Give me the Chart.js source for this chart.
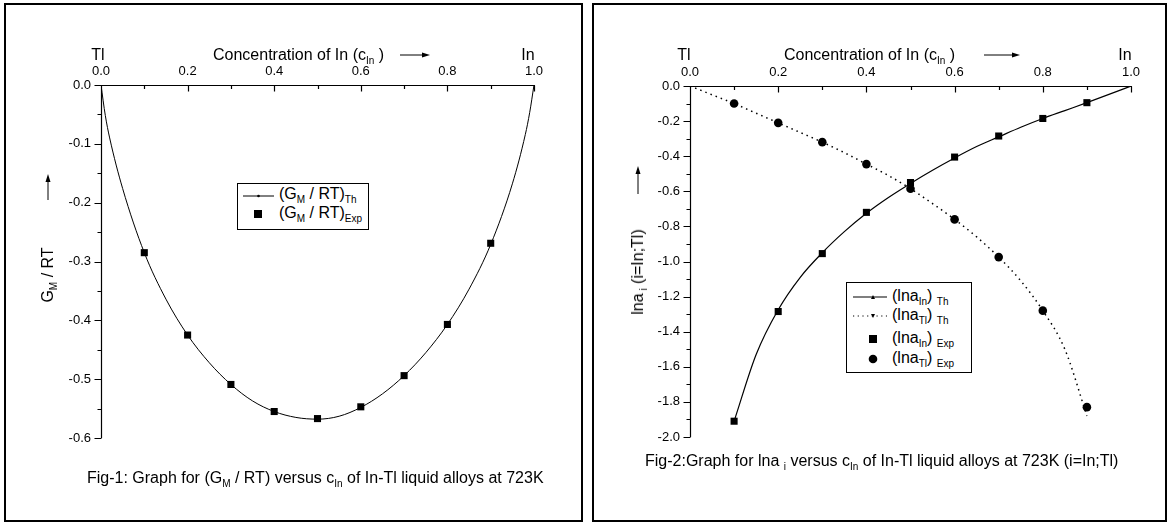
<!DOCTYPE html>
<html><head><meta charset="utf-8">
<script src="https://cdn.jsdelivr.net/npm/chart.js@4.4.0/dist/chart.umd.min.js"></script>
<style>
html,body{margin:0;padding:0;background:#fff;}
body{width:1169px;height:524px;position:relative;overflow:hidden;font-family:"Liberation Sans",Arial,sans-serif;color:#000;}
.panel{position:absolute;border:2px solid #000;box-sizing:border-box;}
canvas{position:absolute;top:0;}
.t{position:absolute;white-space:nowrap;font-size:16px;line-height:1;}
.t sub,.lg sub{font-size:10px;vertical-align:-4px;line-height:0;}
.rot{transform:translate(-50%,-50%) rotate(-90deg);}
.lg{position:absolute;border:1px solid #000;background:#fff;box-sizing:border-box;}
.row{position:absolute;left:0;white-space:nowrap;font-size:16px;line-height:1;}
svg{position:absolute;overflow:visible;}
</style>
</head><body>
<div class="panel" style="left:4px;top:3px;width:579px;height:519px;"></div>
<div class="panel" style="left:592px;top:3px;width:575px;height:519px;"></div>
<canvas id="c1" width="585" height="524" style="left:0;width:585px;height:524px;"></canvas>
<canvas id="c2" width="584" height="524" style="left:585px;width:584px;height:524px;"></canvas>

<!-- Fig 1 texts -->
<div class="t" style="left:98px;top:47px;transform:translateX(-50%);">Tl</div>
<div class="t" style="left:213px;top:47px;">Concentration of In (c<sub>In</sub> )</div>
<svg style="left:0;top:0;" width="1" height="1"><line x1="400" y1="55" x2="424" y2="55" stroke="#000" stroke-width="1"/><polygon points="430,55 422,52.5 422,57.5" fill="#000"/></svg>
<div class="t" style="left:528px;top:47px;transform:translateX(-50%);">In</div>
<div class="t rot" style="left:48px;top:275px;">G<sub>M</sub> / RT</div>
<svg style="left:0;top:0;" width="1" height="1"><line x1="48" y1="200" x2="48" y2="180" stroke="#000" stroke-width="1"/><polygon points="48,174 45.5,182 50.5,182" fill="#000"/></svg>
<div class="lg" style="left:237px;top:183px;width:132px;height:47px;">
  <svg style="left:0;top:0;" width="1" height="1"><line x1="5" y1="12" x2="36" y2="12" stroke="#000" stroke-width="1"/><circle cx="20.5" cy="12" r="1.3" fill="#000"/><rect x="16" y="26" width="8" height="8" fill="#000"/></svg>
  <div class="row" style="left:41px;top:2px;">(G<sub>M</sub> / RT)<sub>Th</sub></div>
  <div class="row" style="left:41px;top:21px;">(G<sub>M</sub> / RT)<sub>Exp</sub></div>
</div>
<div class="t" style="left:87px;top:470px;">Fig-1: Graph for (G<sub>M</sub> / RT) versus c<sub>In</sub> of In-Tl liquid alloys at 723K</div>

<!-- Fig 2 texts -->
<div class="t" style="left:684px;top:47px;transform:translateX(-50%);">Tl</div>
<div class="t" style="left:784px;top:47px;">Concentration of In (c<sub>In</sub> )</div>
<svg style="left:0;top:0;" width="1" height="1"><line x1="984" y1="55" x2="1014" y2="55" stroke="#000" stroke-width="1"/><polygon points="1020,55 1012,52.5 1012,57.5" fill="#000"/></svg>
<div class="t" style="left:1125px;top:47px;transform:translateX(-50%);">In</div>
<div class="t rot" style="left:638px;top:272px;">lna<sub>&nbsp;i</sub> (i=In;Tl)</div>
<svg style="left:0;top:0;" width="1" height="1"><line x1="638" y1="194" x2="638" y2="173" stroke="#000" stroke-width="1"/><polygon points="638,166 635.5,174 640.5,174" fill="#000"/></svg>
<div class="lg" style="left:846px;top:282px;width:126px;height:91px;">
  <svg style="left:0;top:0;" width="1" height="1">
    <line x1="6" y1="14" x2="40" y2="14" stroke="#000" stroke-width="1.2"/><polygon points="26,12 24,16 28,16" fill="#000"/>
    <line x1="6" y1="33" x2="40" y2="33" stroke="#000" stroke-width="1.2" stroke-dasharray="1.2,3.5"/><polygon points="26,35 24,31 28,31" fill="#000"/>
    <rect x="22" y="52" width="8" height="8" fill="#000"/>
    <circle cx="26" cy="76" r="4.3" fill="#000"/>
  </svg>
  <div class="row" style="left:45px;top:5px;">(lna<sub>In</sub>) <sub>Th</sub></div>
  <div class="row" style="left:45px;top:24px;">(lna<sub>Tl</sub>) <sub>Th</sub></div>
  <div class="row" style="left:45px;top:47px;">(lna<sub>In</sub>) <sub>Exp</sub></div>
  <div class="row" style="left:45px;top:67px;">(lna<sub>Tl</sub>) <sub>Exp</sub></div>
</div>
<div class="t" style="left:645px;top:453px;">Fig-2:Graph for lna <sub>i</sub> versus c<sub>In</sub> of In-Tl liquid alloys at 723K (i=In;Tl)</div>

<script>
// ---------- data ----------
const cExp = [0.1,0.2,0.3,0.4,0.5,0.6,0.7,0.8,0.9];
const gmExp = [-0.285,-0.425,-0.509,-0.555,-0.567,-0.547,-0.494,-0.407,-0.269];
const cThG = [0,0.01,0.02,0.05,0.1,0.15,0.2,0.25,0.3,0.35,0.4,0.45,0.5,0.55,0.6,0.65,0.7,0.75,0.8,0.85,0.9,0.95,0.98,0.99,1.0];
const gmTh = [0,-0.052,-0.090,-0.176,-0.285,-0.364,-0.425,-0.472,-0.509,-0.537,-0.555,-0.565,-0.568,-0.563,-0.548,-0.525,-0.494,-0.455,-0.407,-0.347,-0.271,-0.168,-0.084,-0.047,0];

const lnaInExp = [-1.91,-1.285,-0.955,-0.72,-0.55,-0.405,-0.285,-0.185,-0.095];
const lnaTlExp = [-0.10,-0.21,-0.32,-0.445,-0.585,-0.76,-0.975,-1.28,-1.83];
const cThIn = [0.1,0.15,0.2,0.25,0.3,0.35,0.4,0.45,0.5,0.55,0.6,0.65,0.7,0.75,0.8,0.85,0.9,0.95,1.0];
const lnaInTh = [-1.91,-1.53,-1.275,-1.09,-0.95,-0.83,-0.725,-0.635,-0.555,-0.48,-0.41,-0.345,-0.29,-0.235,-0.185,-0.14,-0.095,-0.048,0];
const cThTl = [0,0.05,0.1,0.15,0.2,0.25,0.3,0.35,0.4,0.45,0.5,0.55,0.6,0.65,0.7,0.75,0.8,0.85,0.9];
const lnaTlTh = [0,-0.05,-0.10,-0.155,-0.21,-0.265,-0.32,-0.38,-0.445,-0.51,-0.585,-0.67,-0.76,-0.86,-0.975,-1.11,-1.28,-1.50,-1.88];

const xMajor = [0,0.2,0.4,0.6,0.8,1.0];
const xMinor = [0.1,0.3,0.5,0.7,0.9];
const y1Major = [0,-0.1,-0.2,-0.3,-0.4,-0.5,-0.6];
const y1Minor = [-0.05,-0.15,-0.25,-0.35,-0.45,-0.55];
const y2Major = [0,-0.2,-0.4,-0.6,-0.8,-1.0,-1.2,-1.4,-1.6,-1.8,-2.0];
const y2Minor = [-0.1,-0.3,-0.5,-0.7,-0.9,-1.1,-1.3,-1.5,-1.7,-1.9];

const pts = (xs, ys) => xs.map((x,i)=>({x, y: ys[i]}));

const axesPlugin = {
  id: 'originAxes',
  afterDatasetsDraw(chart, args, o) {
    const {ctx, chartArea: a, scales: {x, y}} = chart;
    ctx.save();
    ctx.strokeStyle = '#000'; ctx.lineWidth = 1.2;
    const L = Math.round(a.left) + 0.5, T = Math.round(a.top) + 0.5;
    ctx.beginPath();
    ctx.moveTo(L, Math.round(a.bottom)); ctx.lineTo(L, T); ctx.lineTo(Math.round(a.right)+1, T);
    o.xMajor.forEach(v => { const p = Math.round(x.getPixelForValue(v))+0.5; ctx.moveTo(p, T); ctx.lineTo(p, T+6); });
    o.xMinor.forEach(v => { const p = Math.round(x.getPixelForValue(v))+0.5; ctx.moveTo(p, T); ctx.lineTo(p, T+3.5); });
    o.yMajor.forEach(v => { const p = Math.round(y.getPixelForValue(v))+0.5; ctx.moveTo(L, p); ctx.lineTo(L-7, p); });
    o.yMinor.forEach(v => { const p = Math.round(y.getPixelForValue(v))+0.5; ctx.moveTo(L, p); ctx.lineTo(L-4, p); });
    ctx.stroke();
    ctx.restore();
  }
};

function fmt(v){ const s = Number(v).toFixed(1); return s === '-0.0' ? '0.0' : s; }

function makeChart(id, datasets, yMin, yMax, yStep, pad, yW, xH, yMaj, yMin2) {
  return new Chart(document.getElementById(id), {
    type: 'line',
    data: { datasets },
    options: {
      responsive: false, animation: false, events: [],
      layout: { padding: pad },
      plugins: { legend: { display: false }, tooltip: { enabled: false },
        originAxes: { xMajor, xMinor, yMajor: yMaj, yMinor: yMin2 } },
      scales: {
        x: { type: 'linear', position: 'top', min: 0, max: 1,
             grid: { display: false, drawTicks: false }, border: { display: false },
             ticks: { stepSize: 0.2, padding: 6, color: '#000', maxRotation: 0,
                      font: { family: 'Liberation Sans', size: 13 }, callback: fmt },
             afterFit: s => { s.height = xH; } },
        y: { type: 'linear', min: yMin, max: yMax,
             grid: { display: false, drawTicks: false }, border: { display: false },
             ticks: { stepSize: yStep, padding: 10, color: '#000',
                      font: { family: 'Liberation Sans', size: 13 }, callback: fmt },
             afterFit: s => { s.width = yW; } }
      }
    },
    plugins: [axesPlugin]
  });
}

makeChart('c1', [
  { data: pts(cThG, gmTh), borderColor: '#000', borderWidth: 1, pointRadius: 0, cubicInterpolationMode: 'monotone', fill: false },
  { data: pts(cExp, gmExp), showLine: false, pointStyle: 'rect', pointRadius: 5, backgroundColor: '#000', borderColor: '#000', borderWidth: 0 }
], -0.6, 0, 0.1, { left: 50, right: 51, top: 30, bottom: 86 }, 51, 55, y1Major, y1Minor);

makeChart('c2', [
  { data: pts(cThIn, lnaInTh), borderColor: '#000', borderWidth: 1.2, pointRadius: 0, cubicInterpolationMode: 'monotone', fill: false },
  { data: pts(cThTl, lnaTlTh), borderColor: '#000', borderWidth: 1.5, borderDash: [1.5, 4], pointRadius: 0, cubicInterpolationMode: 'monotone', fill: false },
  { data: pts(cExp, lnaInExp), showLine: false, pointStyle: 'rect', pointRadius: 5, backgroundColor: '#000', borderColor: '#000', borderWidth: 0 },
  { data: pts(cExp, lnaTlExp), showLine: false, pointStyle: 'circle', pointRadius: 4.3, backgroundColor: '#000', borderColor: '#000', borderWidth: 0 }
], -2.0, 0, 0.2, { left: 55, right: 38, top: 30, bottom: 87 }, 50, 56, y2Major, y2Minor);
</script>
</body></html>
